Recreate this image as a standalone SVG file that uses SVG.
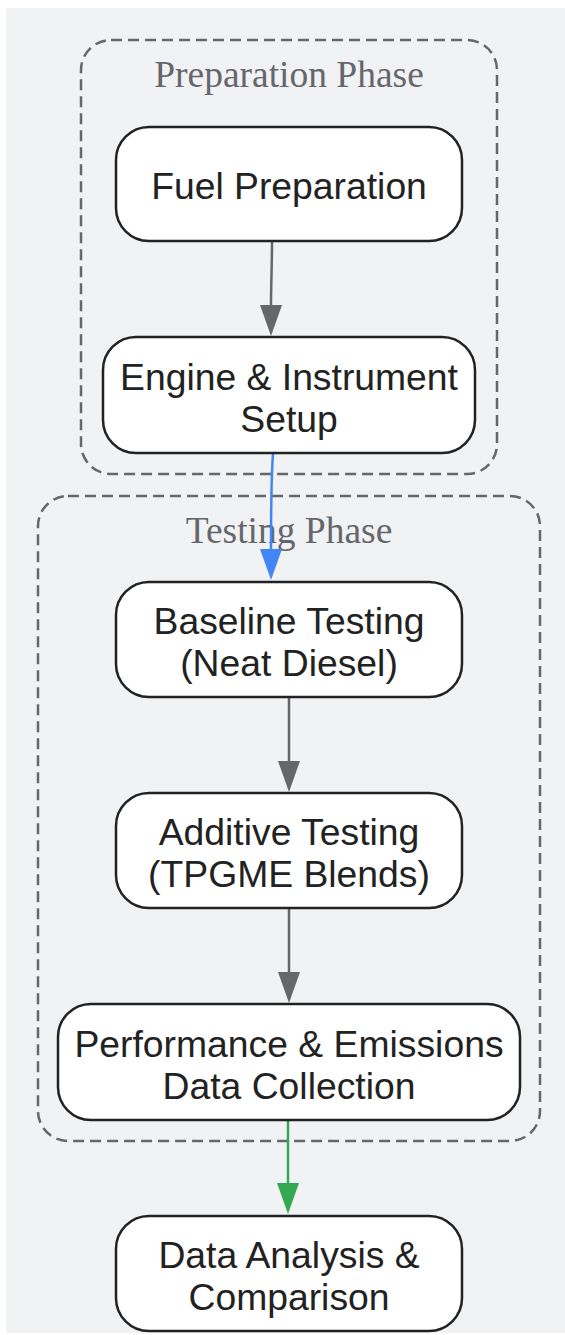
<svg xmlns="http://www.w3.org/2000/svg" width="565" height="1335" viewBox="0 0 565 1335">
<defs>
<style>
.bg{fill:#f1f2f4}
.cluster{fill:none;stroke:#65676c;stroke-width:2.5;stroke-dasharray:11 6}
.ctitle{font-family:"Liberation Serif",serif;font-size:37.5px;fill:#65676c;text-anchor:middle}
.node rect{fill:#ffffff;stroke:#222222;stroke-width:2.5}
.node text{font-family:"Liberation Sans",Arial,sans-serif;font-size:37.3px;fill:#222222;text-anchor:middle}
.edge{fill:none;stroke-width:2.5}
.gray{stroke:#65676c}
.blue{stroke:#4285f4}
.green{stroke:#34a853}
</style>
<marker id="ah-gray" markerUnits="userSpaceOnUse" markerWidth="32" markerHeight="22" refX="0" refY="11" orient="auto" viewBox="0 0 32 22"><path d="M0,0 L31,11 L0,22 z" fill="#65676c"/></marker>
<marker id="ah-blue" markerUnits="userSpaceOnUse" markerWidth="32" markerHeight="22" refX="0" refY="11" orient="auto" viewBox="0 0 32 22"><path d="M0,0 L31,11 L0,22 z" fill="#4285f4"/></marker>
<marker id="ah-green" markerUnits="userSpaceOnUse" markerWidth="32" markerHeight="22" refX="0" refY="11" orient="auto" viewBox="0 0 32 22"><path d="M0,0 L31,11 L0,22 z" fill="#34a853"/></marker>
</defs>
<rect class="bg" x="6" y="8" width="559" height="1325"/>
<g id="cluster-preparation">
<rect class="cluster" x="81" y="40" width="416" height="434" rx="30" ry="30"/>
<text class="ctitle" x="289" y="87">Preparation Phase</text>
</g>
<g id="cluster-testing">
<rect class="cluster" x="38" y="496" width="502" height="645" rx="30" ry="30"/>
<text class="ctitle" x="289" y="543">Testing Phase</text>
</g>
<g id="connectors">
<path class="edge gray" d="M272,242 C272,265 271,285 271,305" marker-end="url(#ah-gray)"/>
<path class="edge blue" d="M273,454 C271,480 271,520 271,549" marker-end="url(#ah-blue)"/>
<path class="edge gray" d="M289,698 L289,761" marker-end="url(#ah-gray)"/>
<path class="edge gray" d="M289,909 L289,972" marker-end="url(#ah-gray)"/>
<path class="edge green" d="M288,1121 L288,1183" marker-end="url(#ah-green)"/>
</g>
<g id="node-fuel" class="node">
<rect x="116" y="127" width="346" height="114" rx="33" ry="33"/>
<text x="289" y="199">Fuel Preparation</text>
</g>
<g id="node-engine" class="node">
<rect x="103" y="337" width="372" height="116" rx="33" ry="33"/>
<text x="289" y="390">Engine &amp; Instrument</text>
<text x="289" y="432">Setup</text>
</g>
<g id="node-baseline" class="node">
<rect x="116" y="582" width="346" height="115" rx="33" ry="33"/>
<text x="289" y="634">Baseline Testing</text>
<text x="289" y="676">(Neat Diesel)</text>
</g>
<g id="node-additive" class="node">
<rect x="116" y="793" width="346" height="115" rx="33" ry="33"/>
<text x="289" y="845">Additive Testing</text>
<text x="289" y="887">(TPGME Blends)</text>
</g>
<g id="node-performance" class="node">
<rect x="58" y="1004" width="462" height="116" rx="33" ry="33"/>
<text x="289" y="1057">Performance &amp; Emissions</text>
<text x="289" y="1099">Data Collection</text>
</g>
<g id="node-analysis" class="node">
<rect x="116" y="1216" width="346" height="115" rx="33" ry="33"/>
<text x="289" y="1268">Data Analysis &amp;</text>
<text x="289" y="1310">Comparison</text>
</g>
</svg>
